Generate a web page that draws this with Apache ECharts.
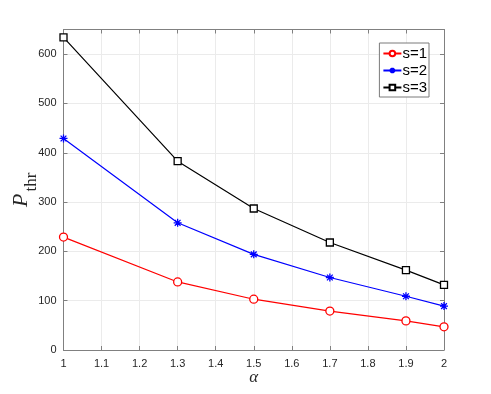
<!DOCTYPE html>
<html><head><meta charset="utf-8">
<script src="https://cdn.jsdelivr.net/npm/echarts@6/dist/echarts.min.js"></script>
<style>html,body{margin:0;padding:0;background:#fff}#c{width:491px;height:394px}</style>
</head><body><div id="c"></div>
<script>
const alphas = [1, 1.3, 1.5, 1.7, 1.9, 2];
const s1 = [229, 138, 103, 79, 59, 47];
const s2 = [429, 258, 194, 147, 109, 89];
const s3 = [634, 383, 287, 218, 162, 132];
const seriesNames = ['s=1', 's=2', 's=3'];
const xTicks = ['1','1.1','1.2','1.3','1.4','1.5','1.6','1.7','1.8','1.9','2'];

const star = 'path://M0,-5L0,5M-5,0L5,0M-3.6,-3.6L3.6,3.6M-3.6,3.6L3.6,-3.6';
const pair = a => alphas.map((x,i)=>[x,a[i]]);
const axisCol = '#808080';
const labCol = '#262626';
const chart = echarts.init(document.getElementById('c'), null, {renderer:'canvas'});
const mk = (name, data, color, symbol, size, fill) => ({
  name, type:'line', data: pair(data), symbol, symbolSize:size,
  lineStyle:{color, width:1.2}, itemStyle:{color: fill, borderColor:color, borderWidth:1.3},
  emphasis:{disabled:true}, animation:false, z:3
});
chart.setOption({
  animation:false,
  grid:{left:63.5, right:47, top:29.5, bottom:44, containLabel:false, outerBoundsMode:'none'},
  legend:{
    right:62, top:43, orient:'vertical', itemGap:2, itemWidth:18, itemHeight:7,
    backgroundColor:'#fff', borderColor:'#7a7a7a', borderWidth:1, padding:[3,2,2,3],
    textStyle:{fontFamily:'Liberation Sans, Arial', fontSize:15, color:'#000', padding:[0,0,0,-4]},
    data: seriesNames
  },
  xAxis:[{
    type:'value', min:1, max:2, interval:0.1,
    axisLine:{show:true, lineStyle:{color:axisCol}},
    axisTick:{show:true, inside:true, length:4, lineStyle:{color:axisCol}},
    axisLabel:{color:labCol, fontFamily:'Liberation Sans, Arial', fontSize:11, margin:8,
      formatter: v => xTicks[Math.round((v-1)*10)]},
    splitLine:{show:true, lineStyle:{color:'#ebebeb'}},
    name:'α', nameLocation:'middle', nameGap:19, nameMoveOverlap:false,
    nameTextStyle:{fontFamily:'Liberation Serif, Times New Roman', fontStyle:'italic', fontSize:17, color:labCol}
  },{
    type:'value', min:1, max:2, interval:0.1, position:'top',
    axisLine:{show:true, onZero:false, lineStyle:{color:axisCol}},
    axisTick:{show:true, inside:true, length:4, lineStyle:{color:axisCol}},
    axisLabel:{show:false}, splitLine:{show:false}
  }],
  yAxis:[{
    type:'value', min:0, max:650, interval:100,
    axisLine:{show:true, lineStyle:{color:axisCol}},
    axisTick:{show:true, inside:true, length:4, lineStyle:{color:axisCol}},
    axisLabel:{color:labCol, fontFamily:'Liberation Sans, Arial', fontSize:11, margin:7, showMaxLabel:false},
    splitLine:{show:true, lineStyle:{color:'#ebebeb'}},
    name:'{p|P}{s|thr}', nameLocation:'middle', nameGap:31, nameRotate:90, nameMoveOverlap:false,
    nameTextStyle:{rich:{
      p:{fontFamily:'Liberation Serif, Times New Roman', fontStyle:'italic', fontSize:22, color:labCol, verticalAlign:'bottom', lineHeight:22},
      s:{fontFamily:'Liberation Serif, Times New Roman', fontSize:17, color:labCol, verticalAlign:'bottom', lineHeight:14, padding:[0,0,-8,2]}
    }}
  },{
    type:'value', min:0, max:650, interval:100, position:'right',
    axisLine:{show:true, onZero:false, lineStyle:{color:axisCol}},
    axisTick:{show:true, inside:true, length:4, lineStyle:{color:axisCol}},
    axisLabel:{show:false}, splitLine:{show:false}
  }],
  series:[
    mk(seriesNames[0], s1, '#ff0000', 'circle', 8, '#fff'),
    mk(seriesNames[1], s2, '#0000ff', star, 8, '#0000ff'),
    mk(seriesNames[2], s3, '#000000', 'rect', 7, '#fff')
  ]
});
</script></body></html>
